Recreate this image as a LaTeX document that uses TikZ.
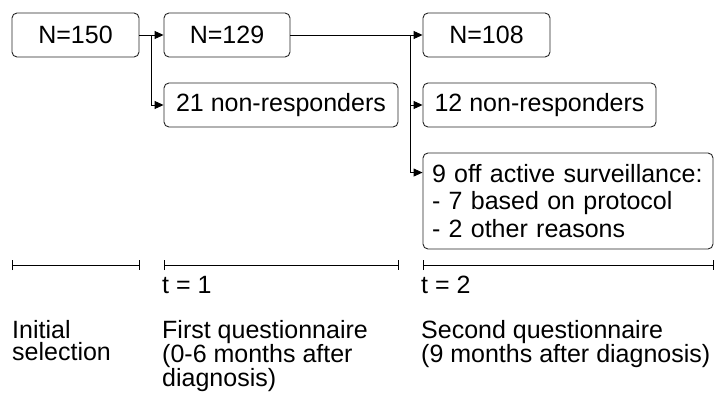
\documentclass[tikz,border=0pt]{standalone}
\usepackage{fontspec}
\setmainfont{Liberation Sans}
\usetikzlibrary{arrows.meta, positioning, calc}

\begin{document}
\begin{tikzpicture}[x=1pt, y=-1pt,
    box/.style={draw=black!85, rounded corners=5pt, line width=0.9pt, minimum height=44pt, minimum width=#1, inner sep=0pt, font=\fontsize{25}{27.5}\selectfont},
    lbl/.style={anchor=north west, align=left, inner sep=0pt, font=\fontsize{25}{22}\selectfont},
    arr/.style={-{Triangle[length=9pt, width=8pt]}, line width=0.9pt},
    span/.style={{Bar[width=10pt]}-{Bar[width=10pt]}, line width=0.9pt}
  ]
    \useasboundingbox (0,0) rectangle (714,401);

    % Initial selection
    \node[box=127pt] (n150) at (75.5,35) {N=150};

    % First questionnaire
    \node[box=126pt] (n129) at (227,35)  {N=129};
    \node[box=234pt] (n21)  at (281,105) {21 non-responders};

    % Second questionnaire
    \node[box=127pt] (n108) at (486.5,35)  {N=108};
    \node[box=233pt] (n12)  at (539.5,105) {12 non-responders};
    \node[box=290pt, minimum height=96pt, text width=272pt, align=left] (n9) at (568,201)
      {9 off active surveillance:\\- 7 based on protocol\\- 2 other reasons};

    % Branch points
    \coordinate (b1)  at ($(n150.east)!0.5!(n129.west)$);
    \coordinate (b2)  at ($(n21.east |- n129.east)!0.5!(n108.west)$);
    \coordinate (in9) at ([yshift=-20pt]n9.north west);

    \draw[arr] (n150.east) -- (n129.west);
    \draw[arr] (b1) |- (n21.west);
    \draw[arr] (n129.east) -- (n108.west);
    \draw[arr] (b2) |- (n12.west);
    \draw[arr] (b2) |- (in9);

    % Time line
    \coordinate (tl) at (0,265);
    \draw[span] (n150.west |- tl) -- (n150.east |- tl);
    \draw[span] (n21.west |- tl)  -- (n21.east |- tl);
    \draw[span] (n9.west |- tl)   -- (n9.east |- tl);

    \node[lbl, anchor=base west] (t1) at (162,293) {t = 1};
    \node[lbl, anchor=base west] (t2) at (421,293) {t = 2};

    % Phase labels
    \node[lbl] (sel) at (12,320)  {Initial\\selection};
    \node[lbl] (q1)  at (162,320) {First questionnaire\\(0-6 months after\\diagnosis)};
    \node[lbl] (q2)  at (421,320) {Second questionnaire\\(9 months after diagnosis)};
  \end{tikzpicture}
\end{document}
